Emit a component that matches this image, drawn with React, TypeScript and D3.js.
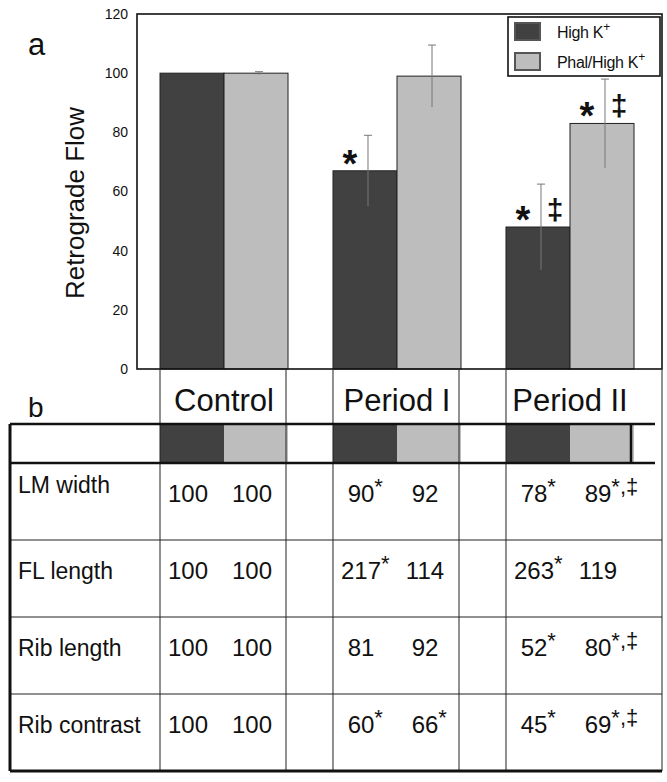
import React from "react";
import * as d3 from "d3";

const groups = ["Control", "Period I", "Period II"];
const seriesNames = ["High K+", "Phal/High K+"];
const highK = [100, 67, 48];
const highKErr = [0, 12, 14.5];
const phal = [100, 99, 83];
const phalErr = [0.5, 10.5, 15];
const highKMarks = ["", "*", "*‡"];
const phalMarks = ["", "", "*‡"];
const yTicks = [0, 20, 40, 60, 80, 100, 120];

const rowLabels = ["LM width", "FL length", "Rib length", "Rib contrast"];
const rowValues = [
  ["100", "100", "90", "92", "78", "89"],
  ["100", "100", "217", "114", "263", "119"],
  ["100", "100", "81", "92", "52", "80"],
  ["100", "100", "60", "66", "45", "69"],
];
const rowSups = [
  ["", "", "*", "", "*", "*,‡"],
  ["", "", "*", "", "*", ""],
  ["", "", "", "", "*", "*,‡"],
  ["", "", "*", "*", "*", "*,‡"],
];

const DARK = "#414141";
const LIGHT = "#bdbdbd";
const FONT = "'Liberation Sans', Arial, sans-serif";

export default function App() {
  const W = 667, H = 782;
  const plot = { left: 137, top: 14, right: 662, bottom: 369 };
  const x = d3.scaleBand<string>().domain(groups).range([160, 634]).paddingInner(0.26).paddingOuter(0);
  const xs = d3.scaleBand<string>().domain(seriesNames).range([0, x.bandwidth()]);
  const y = d3.scaleLinear().domain([0, 120]).range([plot.bottom, plot.top]);

  const seriesData = [
    { name: seriesNames[0], vals: highK, errs: highKErr, marks: highKMarks, fill: DARK },
    { name: seriesNames[1], vals: phal, errs: phalErr, marks: phalMarks, fill: LIGHT },
  ];

  const rows = d3.scaleBand<string>().domain(rowLabels).range([463, 771]);
  const headerTop = 370, swTop = 424, swBot = 463, tableBottom = 771, tableLeft = 10, tableRight = 662;
  const vLines: number[] = [];
  groups.forEach((g, i) => {
    vLines.push(x(g)!);
    vLines.push(i === groups.length - 1 ? tableRight : x(g)! + x.bandwidth() - 2);
  });

  return (
    <svg width={W} height={H} style={{ position: "absolute", left: 0, top: 0, background: "#fff" }} fontFamily={FONT}>
      {/* Panel a */}
      <text x={28} y={55} fontSize={31} fill="#111">a</text>
      <text transform={`translate(84,203) rotate(-90)`} textAnchor="middle" fontSize={26} fill="#111">Retrograde Flow</text>
      {yTicks.map((t) => (
        <text key={t} x={128} y={y(t)} dy="0.35em" textAnchor="end" fontSize={14} fill="#111">{t}</text>
      ))}
      {seriesData.map((s) =>
        groups.map((g, i) => {
          const bx = x(g)! + xs(s.name)!;
          const bw = xs.bandwidth();
          const cx = bx + bw / 2;
          const top = y(s.vals[i]);
          return (
            <g key={s.name + g}>
              <rect x={bx} y={top} width={bw} height={plot.bottom - top} fill={s.fill} stroke="#222" strokeWidth={1} />
              {s.errs[i] > 0 && (
                <g stroke="#777" strokeWidth={1}>
                  <line x1={cx + 3} x2={cx + 3} y1={y(s.vals[i] + s.errs[i])} y2={y(s.vals[i] - s.errs[i])} />
                  <line x1={cx - 1} x2={cx + 7} y1={y(s.vals[i] + s.errs[i])} y2={y(s.vals[i] + s.errs[i])} />
                </g>
              )}
              {s.marks[i].includes("*") && (
                <text x={cx - 15} y={top - 15 + 21} textAnchor="middle" fontSize={38} fontWeight="bold" fill="#111">*</text>
              )}
              {s.marks[i].includes("‡") && (
                <text x={cx + 17} y={top - 17 + 10} textAnchor="middle" fontSize={30} fontWeight="bold" fill="#111">‡</text>
              )}
            </g>
          );
        })
      )}
      <rect x={plot.left} y={plot.top} width={plot.right - plot.left} height={plot.bottom - plot.top} fill="none" stroke="#111" strokeWidth={1.6} />
      {/* legend */}
      <g>
        <rect x={508} y={17} width={152} height={59} fill="#fff" stroke="#111" strokeWidth={1.6} />
        <rect x={515} y={23} width={25} height={17} fill={DARK} stroke="#555" strokeWidth={2} />
        <rect x={515} y={53} width={25} height={17} fill={LIGHT} stroke="#555" strokeWidth={2} />
        <text x={557} y={38} fontSize={16} letterSpacing={-0.3} fill="#111">High K<tspan fontSize={12} dy={-7}>+</tspan></text>
        <text x={557} y={68} fontSize={16} letterSpacing={-0.3} fill="#111">Phal/High K<tspan fontSize={12} dy={-7}>+</tspan></text>
      </g>

      {/* Panel b */}
      <text x={28} y={417} fontSize={28} fill="#111">b</text>
      {groups.map((g) => (
        <text key={g} x={x(g)! + x.bandwidth() / 2} y={411} textAnchor="middle" fontSize={31} fill="#111">{g}</text>
      ))}
      {groups.map((g) =>
        seriesData.map((s) => (
          <rect key={g + s.name} x={x(g)! + xs(s.name)!} y={swTop} width={xs.bandwidth()} height={swBot - swTop} fill={s.fill} />
        ))
      )}
      <line x1={x("Period II")! + x.bandwidth() - 3} x2={x("Period II")! + x.bandwidth() - 3} y1={swTop} y2={swBot} stroke="#111" strokeWidth={2.5} />
      {vLines.map((vx, i) => (
        <line key={i} x1={vx} x2={vx} y1={headerTop} y2={tableBottom} stroke="#222" strokeWidth={1} />
      ))}
      <line x1={tableLeft} x2={655} y1={swTop} y2={swTop} stroke="#111" strokeWidth={2.5} />
      <line x1={tableLeft} x2={655} y1={swBot} y2={swBot} stroke="#111" strokeWidth={2.5} />
      {rowLabels.slice(1).map((r) => (
        <line key={r} x1={tableLeft} x2={tableRight} y1={rows(r)!} y2={rows(r)!} stroke="#222" strokeWidth={1} />
      ))}
      <line x1={tableLeft} x2={tableLeft} y1={swTop} y2={tableBottom} stroke="#111" strokeWidth={3} />
      <line x1={tableLeft} x2={tableRight} y1={tableBottom} y2={tableBottom} stroke="#111" strokeWidth={3} />
      {rowLabels.map((r, ri) => {
        const rt = rows(r)!;
        return (
          <g key={r}>
            <text x={18} y={rt + (ri === 0 ? 30 : 39)} fontSize={23} fill="#111">{r}</text>
            {rowValues[ri].map((v, ci) => {
              const g = groups[Math.floor(ci / 2)];
              const s = seriesNames[ci % 2];
              const cx = x(g)! + xs(s)! + xs.bandwidth() / 2 - 4;
              const half = (v.length * 0.556 * 24) / 2;
              const sup = rowSups[ri][ci];
              return (
                <g key={ci}>
                  <text x={cx} y={rt + 39} textAnchor="middle" fontSize={24} fill="#111">{v}</text>
                  {sup && (
                    <text x={cx + half} y={rt + 31} fontSize={22} fill="#111">{sup}</text>
                  )}
                </g>
              );
            })}
          </g>
        );
      })}
    </svg>
  );
}
